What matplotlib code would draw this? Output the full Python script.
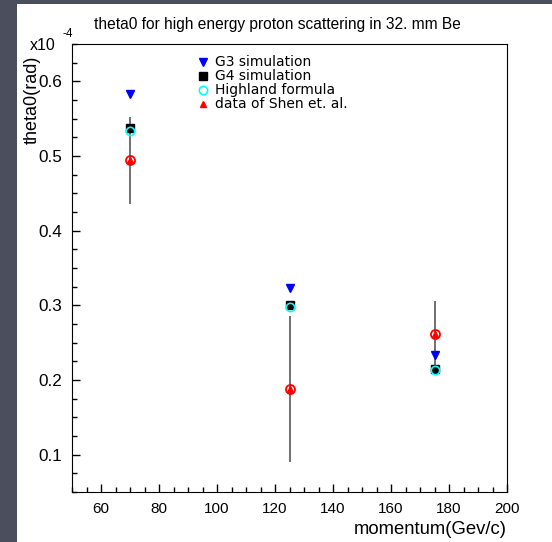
from matplotlib import pyplot as plt
from matplotlib.patches import Rectangle
from matplotlib.ticker import MultipleLocator

plt.rcParams["font.family"] = ["Liberation Sans", "DejaVu Sans"]

# momentum values (GeV/c)
momentum = [70, 125, 175]

# theta0 in units of 1e-4 rad
g3_sim = [0.583, 0.323, 0.234]
g4_sim = [0.537, 0.300, 0.215]
highland = [0.534, 0.298, 0.213]
shen_data = [0.494, 0.188, 0.262]
shen_err = [0.058, 0.098, 0.044]

fig = plt.figure(figsize=(5.52, 5.42), dpi=100, facecolor="#4b4e5d")

#White canvas panel on the slide background
fig.patches.append(Rectangle((17 / 552, 0), 1, 1 - 4 / 542, transform=fig.transFigure,
                             facecolor="white", edgecolor="none", zorder=-5))

ax = fig.add_axes([72 / 552, 1 - 492 / 542, 435 / 552, 448 / 542])
ax.set_zorder(1)

#Error bars of the measured data
ax.errorbar(momentum, shen_data, yerr=shen_err, fmt="none", ecolor="#707070",
            elinewidth=1.4, capsize=0, zorder=2)

ax.plot(momentum, g3_sim, "v", color="blue", markersize=6, linestyle="none",
        label="G3 simulation", zorder=3)
ax.plot(momentum, g4_sim, "s", color="black", markersize=5.5, linestyle="none",
        label="G4 simulation", zorder=3)
ax.plot(momentum, highland, "o", markerfacecolor="none", markeredgecolor="cyan",
        markersize=6, markeredgewidth=1.2, linestyle="none", label="Highland formula", zorder=4)
ax.plot(momentum, shen_data, "o", markerfacecolor="none", markeredgecolor="red",
        markersize=6.5, markeredgewidth=1.3, linestyle="none", zorder=4)
ax.plot(momentum, shen_data, "^", color="red", markersize=5, linestyle="none",
        label="data of Shen et. al.", zorder=5)

ax.set_xlim(50, 200)
ax.set_ylim(0.05, 0.65)

ax.xaxis.set_major_locator(MultipleLocator(20))
ax.xaxis.set_minor_locator(MultipleLocator(5))
ax.yaxis.set_major_locator(MultipleLocator(0.1))
ax.yaxis.set_minor_locator(MultipleLocator(0.025))
ax.tick_params(which="both", direction="in", top=False, right=False)
ax.tick_params(which="major", length=6, width=1, pad=7)
ax.tick_params(which="minor", length=3.5, width=1)
ax.tick_params(axis="x", labelsize=11)
ax.tick_params(axis="y", labelsize=12.3)
ax.set_xticks(range(60, 201, 20))
ax.set_yticks([0.1, 0.2, 0.3, 0.4, 0.5, 0.6])

#Graph title
fig.text(277 / 552, 1 - 25 / 542, "theta0 for high energy proton scattering in 32. mm Be",
         ha="center", va="center", fontsize=11.2)

#Axis labels
fig.text(507 / 552, 1 - 530 / 542, "momentum(Gev/c)", ha="right", va="center", fontsize=13.3)
fig.text(32 / 552, 1 - 56 / 542, "theta0(rad)", ha="center", va="top", rotation=90, fontsize=13)
fig.text(30 / 552, 1 - 46 / 542, "x10", ha="left", va="center", fontsize=11.5)
fig.text(63 / 552, 1 - 34 / 542, "-4", ha="left", va="center", fontsize=8.5)

#Display legend
ax.legend(loc="upper left", bbox_to_anchor=(0.265, 0.993), frameon=False,
          handletextpad=0.4, handlelength=1.0, labelspacing=0.0, borderaxespad=0.2,
          prop={"family": "DejaVu Sans", "size": 10})

plt.savefig("out.png", dpi=100, facecolor=fig.get_facecolor())
